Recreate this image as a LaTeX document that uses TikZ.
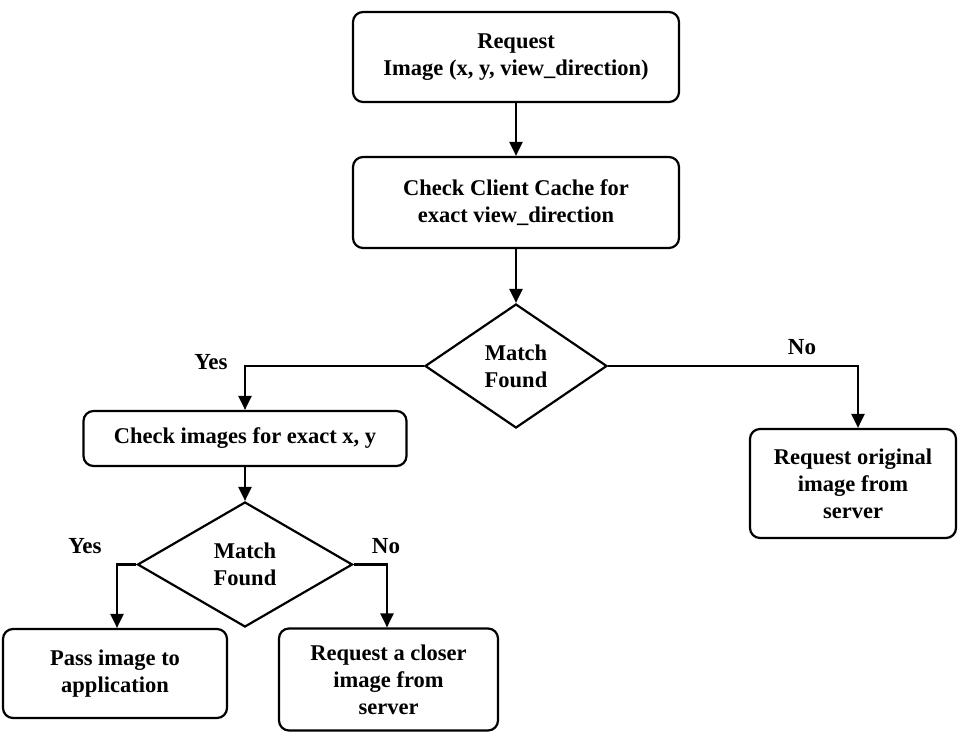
\documentclass[tikz,border=0pt]{standalone}
\usepackage{fontspec}
\setmainfont{Liberation Serif}
\usetikzlibrary{shapes.geometric,arrows.meta}
\begin{document}
\begin{tikzpicture}[x=1pt,y=-1pt,
  every node/.style={font=\bfseries\fontsize{22.5}{27}\selectfont, align=center, inner sep=0pt},
  procbox/.style={draw, line width=2.2pt, rounded corners=10pt},
  decision/.style={draw, diamond, line width=2.2pt},
  arr/.style={line width=2.2pt, -{Triangle[length=14pt,width=13pt]}},
  lbl/.style={font=\bfseries\fontsize{23}{26}\selectfont}]
\useasboundingbox (0,0) rectangle (958,733);

% process boxes
\node[procbox, minimum width=326pt, minimum height=90pt] (req) at (516,57)
  {Request\\Image (x, y, view\_direction)};
\node[procbox, minimum width=326pt, minimum height=91pt] (cache) at (516,202.5)
  {Check Client Cache for\\exact view\_direction};
\node[procbox, minimum width=323pt, minimum height=55pt] (chk) at (245,438.5)
  {Check images for exact x, y};
\node[procbox, minimum width=206pt, minimum height=109pt] (orig) at (853,483.5)
  {Request original\\image from\\server};
\node[procbox, minimum width=224pt, minimum height=89pt] (pass) at (115,673.5)
  {Pass image to\\application};
\node[procbox, minimum width=219pt, minimum height=102pt] (closer) at (388.5,679.5)
  {Request a closer\\image from\\server};

% decisions
\node[decision, minimum width=182pt, minimum height=124pt] (m1) at (516,366)
  {Match\\Found};
\node[decision, minimum width=215pt, minimum height=125pt] (m2) at (245,564.5)
  {Match\\Found};

% branch labels
\node[lbl] (y1) at (211,362) {Yes};
\node[lbl] (n1) at (802,347) {No};
\node[lbl] (y2) at (85,546) {Yes};
\node[lbl] (n2) at (386,546) {No};

% connectors
\draw[arr] (req) -- (cache);
\draw[arr] (cache) -- (m1);
\draw[arr] (m1.west) -| (chk.north);
\draw[arr] (m1.east) -| ([xshift=5pt]orig.north);
\draw[arr] (chk) -- (m2);
\draw[arr] (m2.west) -| ([xshift=2pt]pass.north);
\draw[arr] (m2.east) -| ([xshift=-1.5pt]closer.north);
\end{tikzpicture}
\end{document}
